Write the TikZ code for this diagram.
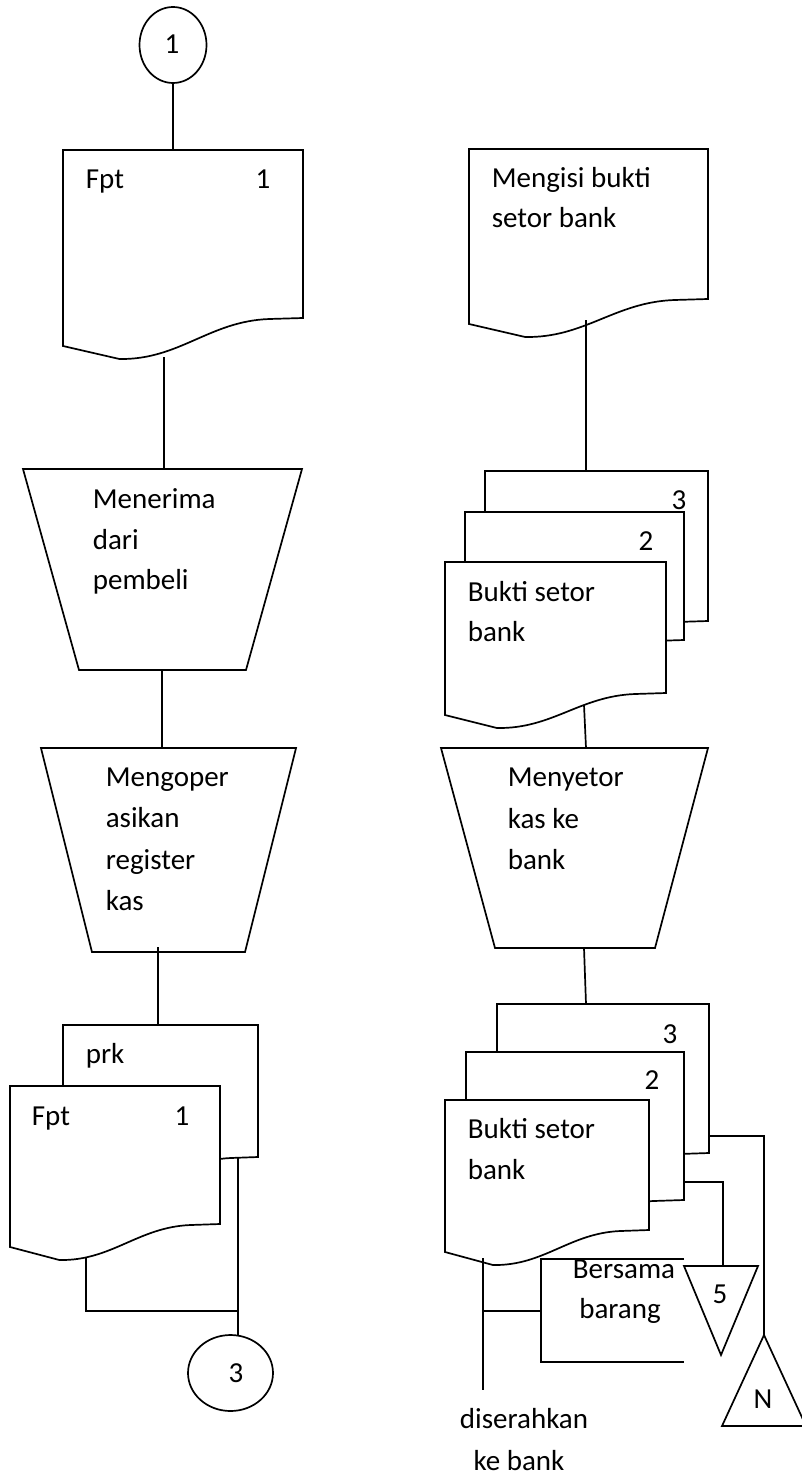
\documentclass[tikz,border=0pt]{standalone}
\usepackage{fontspec}
\setmainfont{Carlito}
\usetikzlibrary{shapes.geometric}
% L T R BR BL
\newcommand{\docshape}[5]{%
  \draw[docline] (#1,#2) -- (#3,#2) -- (#3,#4) -- ({#3-0.14*(#3-#1)},{#4+1})
    .. controls ({#3-0.39*(#3-#1)},{#4+3}) and ({#1+0.485*(#3-#1)},{#5+14}) ..
    ({#1+0.235*(#3-#1)},{#5+13}) -- (#1,#5) -- cycle;}
\begin{document}
\begin{tikzpicture}[x=1pt,y=-1pt,
  every path/.style={line width=1.7pt,line join=miter},
  docline/.style={draw=black,fill=white},
  txt/.style={anchor=base west,inner sep=0pt,font=\fontsize{29}{35}\selectfont},
  ctxt/.style={anchor=base,inner sep=0pt,font=\fontsize{29}{35}\selectfont},
  conn/.style={draw,ellipse,inner sep=0pt,line width=1.7pt}]
\useasboundingbox (0,0) rectangle (802,1479);

% ---------------- left column ----------------
\node[conn,minimum width=67pt,minimum height=76pt] (c1) at (173,45) {};
\node[ctxt] (c1t) at (172,54) {1};
\docshape{63}{150}{303}{318}{346}
\node[txt] (fpt1) at (85,189) {Fpt};
\node[ctxt] (fpt1n) at (263,189) {1};
\coordinate (d1top) at (173,150);
\coordinate (d1bot) at (164,357);
\draw (c1.south) -- (d1top);

\draw (23,469) -- (302,469) -- (246,670) -- (79,670) -- cycle;
\node[txt] (tr1a) at (92,508) {Menerima};
\node[txt] (tr1b) at (92,549) {dari};
\node[txt] (tr1c) at (92,589) {pembeli};
\coordinate (t1top) at (164,469);
\coordinate (t1bot) at (162,670);
\draw (d1bot) -- (t1top);

\draw (41,748) -- (296,748) -- (245,952) -- (92,952) -- cycle;
\node[txt] (tr2a) at (105,786) {Mengoper};
\node[txt] (tr2b) at (105,827) {asikan};
\node[txt] (tr2c) at (105,869) {register};
\node[txt] (tr2d) at (105,910) {kas};
\coordinate (t2top) at (162,748);
\coordinate (t2bot) at (158,947);
\draw (t1bot) -- (t2top);

\docshape{63}{1025}{258}{1157}{1180}
\docshape{10}{1086}{220}{1224}{1247}
\node[txt] (prk) at (85,1063) {prk};
\node[txt] (fpt2) at (31,1125) {Fpt};
\node[ctxt] (fpt2n) at (182,1125) {1};
\coordinate (prktop) at (158,1025);
\coordinate (prkbot) at (238,1158);
\coordinate (fbot) at (86,1257);
\coordinate (j1) at (238,1311);
\draw (t2bot) -- (prktop);
\draw (fbot) |- (j1);

\node[conn,minimum width=85pt,minimum height=76pt] (c3) at (230.5,1373) {};
\node[ctxt] (c3t) at (236,1382) {3};
\coordinate (c3top) at (238,1336);
\draw (prkbot) -- (c3top);

% ---------------- right column ----------------
\docshape{469}{149}{708}{299}{324}
\node[txt] (m1a) at (491,188) {Mengisi bukti};
\node[txt] (m1b) at (491,228) {setor bank};
\coordinate (m1bot) at (586,320);

\docshape{485}{471}{708}{621}{644}
\docshape{465}{512}{684}{640}{663}
\docshape{445}{562}{666}{693}{715}
\node[ctxt] (s1n3) at (679,509) {3};
\node[ctxt] (s1n2) at (646,550) {2};
\node[txt] (s1a) at (467,601) {Bukti setor};
\node[txt] (s1b) at (467,641) {bank};
\coordinate (s1top) at (586,471);
\coordinate (s1bot) at (584,705);
\draw (m1bot) -- (s1top);

\draw (441,748) -- (708,748) -- (655,948) -- (495,948) -- cycle;
\node[txt] (tr3a) at (507,786) {Menyetor};
\node[txt] (tr3b) at (507,828) {kas ke};
\node[txt] (tr3c) at (507,869) {bank};
\coordinate (t3top) at (586,748);
\coordinate (t3bot) at (584,948);
\draw (s1bot) -- (t3top);

\docshape{497}{1004}{709}{1153}{1176}
\docshape{466}{1052}{684}{1200}{1223}
\docshape{445}{1100}{649}{1230}{1252}
\node[ctxt] (s2n3) at (670,1043) {3};
\node[ctxt] (s2n2) at (652,1089) {2};
\node[txt] (s2a) at (467,1138) {Bukti setor};
\node[txt] (s2b) at (467,1179) {bank};
\coordinate (s2top) at (586,1004);
\draw (t3bot) -- (s2top);

% annotation bracket
\draw (684,1259) -- (541,1259) -- (541,1362) -- (684,1362);
\node[ctxt] (ann1) at (624,1278) {Bersama};
\node[ctxt] (ann2) at (620,1318) {barang};

% file triangles
\draw (684,1266) -- (758,1266) -- (721,1355) -- cycle;
\node[ctxt] (f5) at (720,1303) {5};
\coordinate (f5top) at (723,1266);
\draw (764,1335) -- (806,1426) -- (722,1426) -- cycle;
\node[ctxt] (fN) at (763,1408) {N};
\coordinate (fNtop) at (764,1335);

% connectors from stack
\coordinate (s2r3) at (709,1136);
\coordinate (s2r2) at (684,1182);
\coordinate (s2b1) at (483,1258);
\coordinate (bankend) at (483,1390);
\coordinate (annj) at (483,1311);
\coordinate (annl) at (541,1311);
\draw (s2r3) -| (fNtop);
\draw (s2r2) -| (f5top);
\draw (s2b1) -- (bankend);
\draw (annj) -- (annl);
\node[ctxt] (bk1) at (524,1428) {diserahkan};
\node[ctxt] (bk2) at (519,1470) {ke bank};
\end{tikzpicture}
\end{document}
